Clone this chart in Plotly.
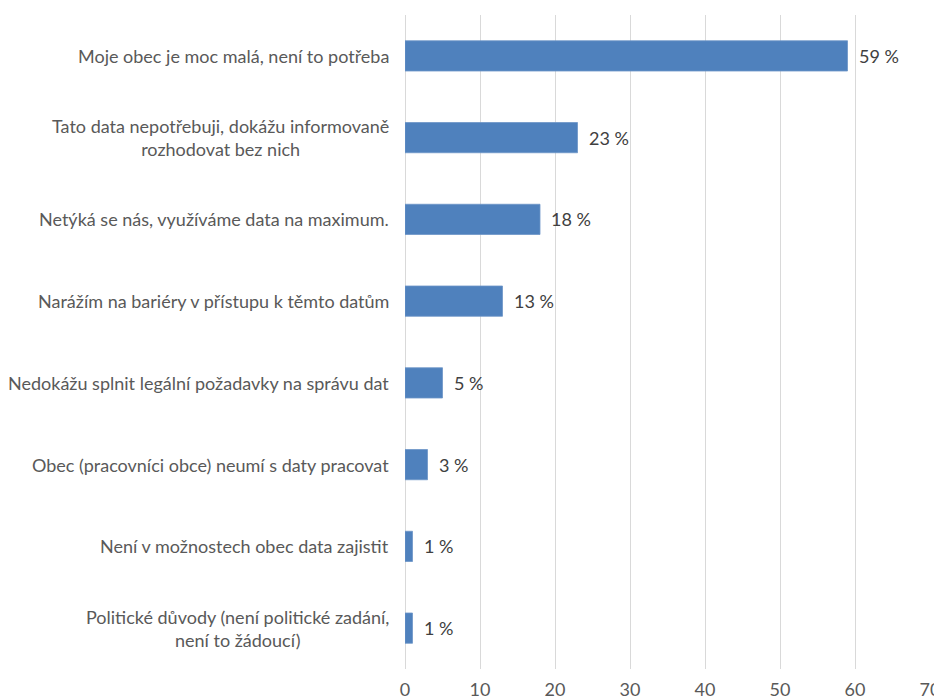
import plotly.graph_objects as go

categories = [
    "Moje obec je moc malá, není to potřeba",
    "Tato data nepotřebuji, dokážu informovaně<br>rozhodovat bez nich",
    "Netýká se nás, využíváme data na maximum.",
    "Narážím na bariéry v přístupu k těmto datům",
    "Nedokážu splnit legální požadavky na správu dat",
    "Obec (pracovníci obce) neumí s daty pracovat",
    "Není v možnostech obec data zajistit",
    "Politické důvody (není politické zadání,<br>není to žádoucí)",
]
values = [59, 23, 18, 13, 5, 3, 1, 1]
tick_vals = [0, 10, 20, 30, 40, 50, 60, 70]

FONT = "Lato"
FS = 18
fig = go.Figure()
fig.add_trace(go.Bar(
    y=list(range(len(categories))),
    x=values,
    orientation="h",
    width=0.37,
    marker=dict(color="#4F81BD", line=dict(color="#6d96c8", width=0.8)),
    hoverinfo="skip",
))

annotations = []
for i, (c, v) in enumerate(zip(categories, values)):
    annotations.append(dict(
        x=0, xref="paper", y=i, yref="y", text=c, showarrow=False,
        xanchor="right", yanchor="middle", align="center", xshift=-14,
        font=dict(family=FONT, size=FS, color="#595959"),
    ))
    annotations.append(dict(
        x=v, xref="x", y=i, yref="y", text=f"{v} %", showarrow=False,
        xanchor="left", yanchor="middle", xshift=9,
        font=dict(family=FONT, size=FS, color="#404040"),
    ))

fig.update_layout(
    width=942, height=699,
    margin=dict(l=397, r=20, t=7, b=27),
    plot_bgcolor="white", paper_bgcolor="white",
    showlegend=False,
    annotations=annotations,
    xaxis=dict(
        range=[0, 70], tickvals=tick_vals, showgrid=True, gridcolor="#d9d9d9",
        gridwidth=1, zeroline=True, zerolinecolor="#d9d9d9", zerolinewidth=1,
        showline=False, ticks="", ticklabelstandoff=8,
        tickfont=dict(family=FONT, size=FS, color="#595959"),
        fixedrange=True,
    ),
    yaxis=dict(
        range=[len(categories) - 0.5, -0.5], showticklabels=False,
        showgrid=False, zeroline=False, showline=False, fixedrange=True,
    ),
)

fig.write_html("out.html")
